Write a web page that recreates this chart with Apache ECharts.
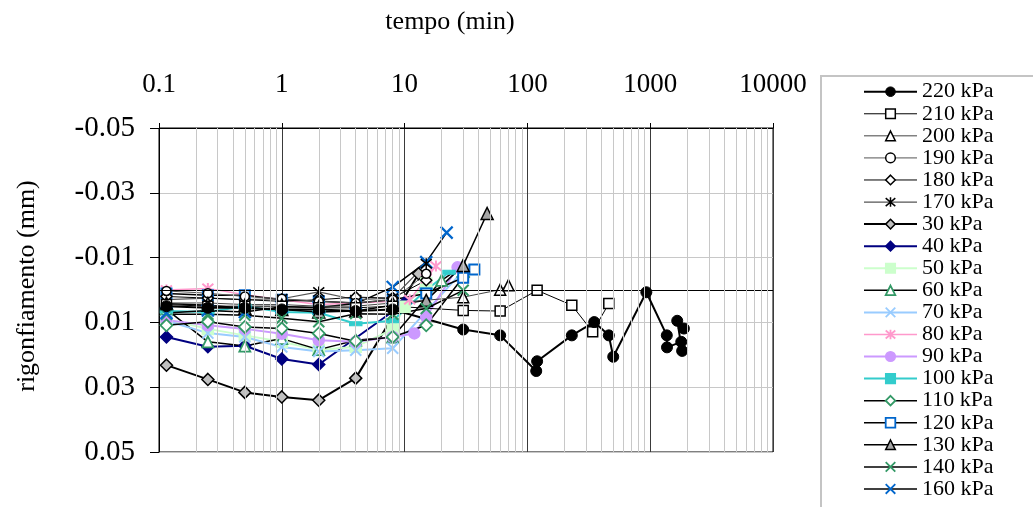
<!DOCTYPE html>
<html>
<head>
<meta charset="utf-8">
<script src="https://cdn.jsdelivr.net/npm/echarts@6/dist/echarts.min.js"></script>
<style>
html,body{margin:0;padding:0;background:#fff;}
#c{width:1033px;height:507px;}
</style>
</head>
<body>
<div id="c"></div>
<script>
// ---- data (time in minutes, swelling in mm) ----
const xTickLabels = ['0.1','1','10','100','1000','10000'];
const yTickLabels = ['-0.05','-0.03','-0.01','0.01','0.03','0.05'];

const t30  = [0.115,0.25,0.5,1,2,4,13];
const v30  = [0.0232,0.0276,0.0316,0.033,0.034,0.0272,-0.005];
const t40  = [0.115,0.25,0.5,1,2,10];
const v40  = [0.0145,0.0175,0.0172,0.0213,0.023,0.004];
const t50  = [0.115,0.25,0.5,1,2,4,8,10,15];
const v50  = [0.009,0.012,0.014,0.016,0.0185,0.0175,0.0122,0.0052,-0.002];
const t60  = [0.115,0.25,0.5,1,2,4,8,20,30];
const v60  = [0.006,0.016,0.0173,0.015,0.0184,0.0155,0.0145,-0.003,-0.0075];
const t70  = [0.115,0.25,0.5,1,2,4,8,30];
const v70  = [0.0095,0.0133,0.0145,0.0176,0.019,0.0186,0.018,-0.006];
const t80  = [0.115,0.25,0.5,1,2,4,8,11,15,18];
const v80  = [0.0,-0.0005,0.0015,0.003,0.0045,0.004,0.0035,0.003,-0.0035,-0.0074];
const t90  = [0.115,0.25,0.5,1,2,4,8,12,15,27];
const v90  = [0.0093,0.0109,0.012,0.0135,0.0155,0.016,0.0145,0.0134,0.0083,-0.007];
const t100 = [0.115,0.25,0.5,1,2,4,8,15,23];
const v100 = [0.0065,0.0068,0.005,0.0068,0.007,0.0104,0.0095,0.0,-0.0055];
const t110 = [0.115,0.25,0.5,1,2,4,8,15,30];
const v110 = [0.0109,0.0098,0.0114,0.0119,0.0134,0.0158,0.0145,0.0109,-0.004];
const t120 = [0.115,0.25,0.5,1,2,4,8,15,30,37];
const v120 = [0.0011,0.0016,0.0016,0.003,0.0035,0.004,0.003,0.0011,-0.0038,-0.0063];
const t130 = [0.115,0.25,0.5,1,2,4,8,15,30,47];
const v130 = [0.0042,0.0047,0.0056,0.006,0.0068,0.0065,0.0047,0.0032,-0.0076,-0.0236];
const t140 = [0.115,0.25,0.5,1,2,4,8,15,30];
const v140 = [0.0075,0.0075,0.0078,0.0087,0.0098,0.0073,0.0075,0.0057,0.0001];
const t160 = [0.115,0.25,0.5,1,2,4,8,15,22];
const v160 = [0.0071,0.0063,0.0068,0.0052,0.0054,0.0042,-0.0009,-0.0086,-0.0177];
const t170 = [0.115,0.25,0.5,1,2,4,8,15];
const v170 = [0.003,0.0025,0.003,0.0027,0.0006,0.003,0.0025,-0.0081];
const t180 = [0.115,0.25,0.5,1,2,4,8,15];
const v180 = [0.002,0.0025,0.003,0.0035,0.003,0.0022,0.0025,-0.003];
const t190 = [0.115,0.25,0.5,1,2,4,8,15];
const v190 = [0.0003,0.001,0.002,0.0027,0.0035,0.004,0.003,-0.005];
const t200 = [0.115,0.25,0.5,1,2,4,8,30,60,70];
const v200 = [0.004,0.004,0.0045,0.0045,0.005,0.005,0.004,0.0022,-0.0001,-0.0015];
const t210 = [0.115,0.25,0.5,1,2,4,8,30,60,120,230,340,460];
const v210 = [0.0045,0.005,0.005,0.005,0.0055,0.0055,0.005,0.0063,0.0065,0.0001,0.0047,0.0129,0.0042];
const t220 = [0.115,0.25,0.5,1,2,4,8,30,60,118,120,230,350,460,500,930,1365,1370,1790,1820,1660,1880];
const v220 = [0.005,0.0055,0.0055,0.006,0.006,0.0065,0.006,0.0122,0.014,0.025,0.022,0.014,0.0099,0.014,0.0206,0.0007,0.014,0.0177,0.016,0.0188,0.0095,0.0119];

const legendOrder = ['220 kPa','210 kPa','200 kPa','190 kPa','180 kPa','170 kPa','30 kPa','40 kPa','50 kPa','60 kPa','70 kPa','80 kPa','90 kPa','100 kPa','110 kPa','120 kPa','130 kPa','140 kPa','160 kPa'];

// ---- styling ----
const ASTER = 'path://M0,0L10,10M10,0L0,10M5,-1L5,11';
const XMARK = 'path://M0,0L10,10M10,0L0,10';
const FONT = 'Liberation Serif';
const styles = {};

function mk(name, t, v, o) {
  styles[name] = o;
  return {
    name: name, type: 'line', z: o.z || 3,
    data: t.map((x, i) => [x, v[i]]),
    symbol: o.symbol, symbolSize: o.size || 10,
    showAllSymbol: true,
    lineStyle: {color: o.line, width: o.lw || 1.5},
    itemStyle: {color: o.fill, borderColor: o.stroke, borderWidth: o.bw == null ? 1.5 : o.bw},
    emphasis: {disabled: true},
    animation: false
  };
}

const series = [
  mk('30 kPa', t30, v30, {symbol:'diamond', size:12, line:'#000', lw:2, fill:'#c0c0c0', stroke:'#000'}),
  mk('40 kPa', t40, v40, {symbol:'diamond', size:12, line:'#000080', lw:2, fill:'#000080', stroke:'#000080'}),
  mk('50 kPa', t50, v50, {symbol:'rect', size:11, line:'#ccffcc', lw:2, fill:'#ccffcc', stroke:'#ccffcc'}),
  mk('60 kPa', t60, v60, {symbol:'triangle', size:11, line:'#000', lw:1.5, fill:'#fff', stroke:'#339966', bw:1.8}),
  mk('70 kPa', t70, v70, {symbol:XMARK, size:11, line:'#99ccff', lw:2, fill:'none', stroke:'#99ccff', bw:2}),
  mk('80 kPa', t80, v80, {symbol:ASTER, size:11, line:'#ff99cc', lw:1.5, fill:'none', stroke:'#ff99cc', bw:2}),
  mk('90 kPa', t90, v90, {symbol:'circle', size:11, line:'#cc99ff', lw:2, fill:'#cc99ff', stroke:'#cc99ff'}),
  mk('100 kPa', t100, v100, {symbol:'rect', size:[11,4], line:'#33cccc', lw:2, fill:'#33cccc', stroke:'#33cccc'}),
  mk('110 kPa', t110, v110, {symbol:'diamond', size:12, line:'#000', lw:1.5, fill:'#fff', stroke:'#339966', bw:1.8}),
  mk('120 kPa', t120, v120, {symbol:'rect', size:10, line:'#000', lw:1.5, fill:'#fff', stroke:'#0066cc', bw:2}),
  mk('130 kPa', t130, v130, {symbol:'triangle', size:12, line:'#000', lw:1.5, fill:'#a6a6a6', stroke:'#000', bw:1.5}),
  mk('140 kPa', t140, v140, {symbol:XMARK, size:11, line:'#000', lw:1.5, fill:'none', stroke:'#339966', bw:2}),
  mk('160 kPa', t160, v160, {symbol:XMARK, size:12, line:'#000', lw:1.5, fill:'none', stroke:'#0066cc', bw:2.2}),
  mk('170 kPa', t170, v170, {symbol:ASTER, size:11, line:'#555', lw:1.2, fill:'none', stroke:'#000', bw:1.5}),
  mk('180 kPa', t180, v180, {symbol:'diamond', size:11, line:'#000', lw:1, fill:'#fff', stroke:'#000', bw:1.5}),
  mk('190 kPa', t190, v190, {symbol:'circle', size:9, line:'#555', lw:1, fill:'#fff', stroke:'#000', bw:1.5}),
  mk('200 kPa', t200, v200, {symbol:'triangle', size:11, line:'#444', lw:1, fill:'#fff', stroke:'#000', bw:1.5}),
  mk('210 kPa', t210, v210, {symbol:'rect', size:10, line:'#000', lw:1, fill:'#fff', stroke:'#000', bw:1.5}),
  mk('220 kPa', t220, v220, {symbol:'circle', size:11, line:'#000', lw:2, fill:'#000', stroke:'#000', bw:1})
];

// legend entries with explicit styling (line + symbol icon kept)
const legendData = legendOrder.map(n => {
  const o = styles[n];
  return {
    name: n,
    itemStyle: {color: o.fill === 'none' ? 'rgba(0,0,0,0)' : o.fill, borderColor: o.stroke, borderWidth: o.bw == null ? 1.5 : Math.min(o.bw, 1.8)},
    lineStyle: {color: o.line, width: o.lw || 1.5}
  };
});

// minor (2..9) vertical gridlines and the zero line
const decades = [0.1, 1, 10, 100, 1000];
const minorLines = [];
decades.forEach(d => { for (let k = 2; k <= 9; k++) minorLines.push({xAxis: d * k}); });
series.unshift({
  name: 'grid', type: 'line', data: [], z: 1, silent: true, animation: false,
  markLine: {
    silent: true, symbol: 'none', animation: false, label: {show: false},
    lineStyle: {color: '#c8c8c8', width: 1, type: 'solid'},
    data: minorLines
  }
});
series.unshift({
  name: 'zero', type: 'line', data: [], z: 2, silent: true, animation: false,
  markLine: {
    silent: true, symbol: 'none', animation: false, label: {show: false},
    lineStyle: {color: '#000', width: 1, type: 'solid'},
    data: [{yAxis: 0}]
  }
});

const chart = echarts.init(document.getElementById('c'), null, {renderer: 'canvas'});
chart.setOption({
  animation: false,
  backgroundColor: '#fff',
  grid: {left: 159, top: 128, width: 614, height: 324, show: true, borderColor: '#000', borderWidth: 1, backgroundColor: 'transparent'},
  xAxis: {
    type: 'log', logBase: 10, min: 0.1, max: 10000, position: 'top',
    axisLine: {show: true, onZero: false, lineStyle: {color: '#000', width: 1}},
    axisTick: {show: true, inside: false, length: 5, lineStyle: {color: '#000'}},
    splitLine: {show: true, lineStyle: {color: '#3a3a3a', width: 1}},
    axisLabel: {
      margin: 30, color: '#000', fontFamily: FONT, fontSize: 27,
      formatter: v => { const i = Math.round(Math.log10(v)) + 1; return xTickLabels[i] || ''; }
    }
  },
  yAxis: {
    type: 'value', inverse: true, min: -0.05, max: 0.05, interval: 0.02,
    axisLine: {show: true, onZero: false, lineStyle: {color: '#000', width: 1}},
    axisTick: {show: true, length: 9, lineStyle: {color: '#000'}},
    splitLine: {show: true, lineStyle: {color: '#c8c8c8', width: 1}},
    axisLabel: {
      margin: 24, color: '#000', fontFamily: FONT, fontSize: 29,
      formatter: v => { const i = Math.round((v + 0.05) / 0.02); return yTickLabels[i] || ''; }
    }
  },
  legend: {
    data: legendData, orient: 'vertical', left: 863, top: 80.7,
    itemWidth: 53, itemHeight: 12, itemGap: 0.07,
    textStyle: {fontFamily: FONT, fontSize: 22, lineHeight: 22, color: '#000'},
    selectedMode: false, padding: 0
  },
  graphic: [
    {type: 'rect', shape: {x: 821, y: 76, width: 240, height: 460}, style: {fill: 'none', stroke: '#c4c4c4', lineWidth: 2}, z: -1, silent: true},
    {type: 'text', x: 450, y: 22, style: {text: 'tempo (min)', font: '26px "Liberation Serif"', fill: '#000', align: 'center', verticalAlign: 'middle'}},
    {type: 'text', x: 27, y: 286, rotation: Math.PI / 2, style: {text: 'rigonfiamento (mm)', font: '26px "Liberation Serif"', fill: '#000', align: 'center', verticalAlign: 'middle'}}
  ],
  series: series
});
</script>
</body>
</html>
